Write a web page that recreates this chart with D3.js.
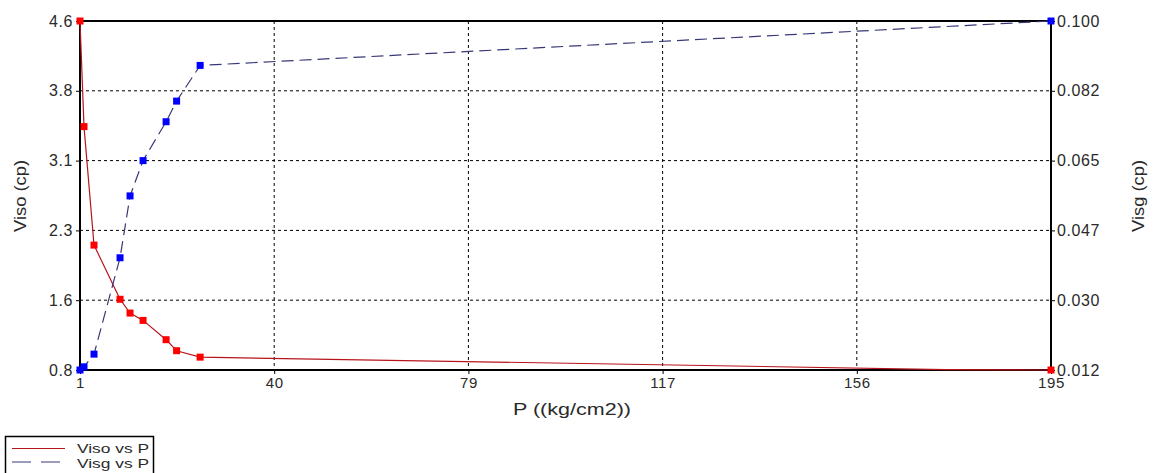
<!DOCTYPE html>
<html>
<head>
<meta charset="utf-8">
<script src="https://cdn.jsdelivr.net/npm/d3@7"></script>
<style>
  body { margin: 0; background: #fff; }
  text { font-family: "Liberation Sans", Arial, sans-serif; fill: #2a2a2a; }
</style>
</head>
<body>
<svg id="chart" width="1153" height="473"></svg>
<script>
// pressure points (kg/cm2) and the two viscosity series
var pressure = [1, 1.8, 3.8, 9.0, 11.0, 13.6, 18.2, 20.3, 25.0, 174, 195]
var viso = [4.6, 3.45, 2.16, 1.57, 1.42, 1.34, 1.13, 1.01, 0.94, 0.805, 0.8]
var visg = [0.012, 0.0128, 0.016, 0.0403, 0.0559, 0.0648, 0.0746, 0.0798, 0.0888, 0.0986, 0.100]
var noMarker = [174]

var xTicks = [1, 39.8, 78.6, 117.4, 156.2, 195]
var yLeftTicks = [0.8, 1.56, 2.32, 3.08, 3.84, 4.6]
var yRightTicks = [0.012, 0.0296, 0.0472, 0.0648, 0.0824, 0.100]

var margin = {top: 21, right: 102, bottom: 103, left: 80}
var width = 1153, height = 473

var svg = d3.select('#chart')

var x = d3.scaleLinear().domain([1, 195]).range([margin.left, width - margin.right])
var yL = d3.scaleLinear().domain([0.8, 4.6]).range([height - margin.bottom, margin.top])
var yR = d3.scaleLinear().domain([0.012, 0.100]).range([height - margin.bottom, margin.top])

var data = pressure.map(function(p, i) { return {p: p, viso: viso[i], visg: visg[i]} })

// grid lines
var grid = svg.append('g')
grid.selectAll('.vg').data(xTicks.slice(1, -1)).enter().append('line')
  .attr('x1', d => x(d)).attr('x2', d => x(d))
  .attr('y1', margin.top).attr('y2', height - margin.bottom)
  .attr('stroke', '#000').attr('stroke-dasharray', '3,3')
grid.selectAll('.hg').data(yLeftTicks.slice(1, -1)).enter().append('line')
  .attr('x1', margin.left).attr('x2', width - margin.right)
  .attr('y1', d => yL(d)).attr('y2', d => yL(d))
  .attr('stroke', '#000').attr('stroke-dasharray', '3,3')

// axes
var xAxis = svg.append('g')
  .attr('transform', 'translate(0,' + (height - margin.bottom) + ')')
  .call(d3.axisBottom(x).tickValues(xTicks).tickFormat(d3.format('.0f')).tickSize(4).tickPadding(3))
svg.append('g')
  .attr('transform', 'translate(' + margin.left + ',0)')
  .call(d3.axisLeft(yL).tickValues(yLeftTicks).tickFormat(d3.format('.1f')).tickSize(4).tickPadding(3))
svg.append('g')
  .attr('transform', 'translate(' + (width - margin.right) + ',0)')
  .call(d3.axisRight(yR).tickValues(yRightTicks).tickFormat(d3.format('.3f')).tickSize(4).tickPadding(2))
svg.selectAll('.tick text').style('font-size', '16px').style('letter-spacing', '0.6px').style('fill', '#2a2a2a')
xAxis.selectAll('.tick text').style('font-size', '15px')
svg.selectAll('.tick line').attr('stroke', '#000')
svg.selectAll('.domain').remove()

// frame
svg.append('rect')
  .attr('x', margin.left).attr('y', margin.top)
  .attr('width', width - margin.left - margin.right)
  .attr('height', height - margin.top - margin.bottom)
  .attr('fill', 'none').attr('stroke', '#000').attr('stroke-width', 2)

// series
var lineViso = d3.line().x(d => x(d.p)).y(d => yL(d.viso))
var lineVisg = d3.line().x(d => x(d.p)).y(d => yR(d.visg))

svg.append('path').datum(data).attr('d', lineViso)
  .attr('fill', 'none').attr('stroke', '#b8141c').attr('stroke-width', 1.2)
svg.append('path').datum(data).attr('d', lineVisg)
  .attr('fill', 'none').attr('stroke', '#383878').attr('stroke-width', 1.2)
  .attr('stroke-dasharray', '12,6')

var marked = data.filter(d => noMarker.indexOf(d.p) < 0)
svg.append('g').selectAll('rect').data(marked).enter().append('rect')
  .attr('x', d => x(d.p) - 3.5).attr('y', d => yL(d.viso) - 3.5)
  .attr('width', 7).attr('height', 7).attr('fill', '#ff0000')
svg.append('g').selectAll('rect').data(marked).enter().append('rect')
  .attr('x', d => x(d.p) - 3.5).attr('y', d => yR(d.visg) - 3.5)
  .attr('width', 7).attr('height', 7).attr('fill', '#0000ff')

// axis titles
svg.append('text')
  .attr('x', 572).attr('y', 415)
  .attr('textLength', 118).attr('lengthAdjust', 'spacingAndGlyphs')
  .style('text-anchor', 'middle').style('font-size', '17px')
  .text('P ((kg/cm2))')
svg.append('text')
  .attr('transform', 'translate(26,196) rotate(-90)')
  .attr('textLength', 72).attr('lengthAdjust', 'spacingAndGlyphs')
  .style('text-anchor', 'middle').style('font-size', '17px')
  .text('Viso (cp)')
svg.append('text')
  .attr('transform', 'translate(1144,196) rotate(-90)')
  .attr('textLength', 72).attr('lengthAdjust', 'spacingAndGlyphs')
  .style('text-anchor', 'middle').style('font-size', '17px')
  .text('Visg (cp)')

// legend
var legend = svg.append('g')
legend.append('rect')
  .attr('x', 5.5).attr('y', 436.5).attr('width', 148).attr('height', 40)
  .attr('fill', '#fff').attr('stroke', '#000').attr('stroke-width', 1.5)
legend.append('line').attr('x1', 12).attr('x2', 65).attr('y1', 448.5).attr('y2', 448.5)
  .attr('stroke', '#b8141c').attr('stroke-width', 1.2)
legend.append('line').attr('x1', 12).attr('x2', 65).attr('y1', 462).attr('y2', 462)
  .attr('stroke', '#383878').attr('stroke-width', 1.2).attr('stroke-dasharray', '19,10')
legend.append('text').attr('x', 77).attr('y', 453)
  .attr('textLength', 72).attr('lengthAdjust', 'spacingAndGlyphs')
  .style('font-size', '13.5px').text('Viso vs P')
legend.append('text').attr('x', 77).attr('y', 468)
  .attr('textLength', 72).attr('lengthAdjust', 'spacingAndGlyphs')
  .style('font-size', '13.5px').text('Visg vs P')
</script>
</body>
</html>
